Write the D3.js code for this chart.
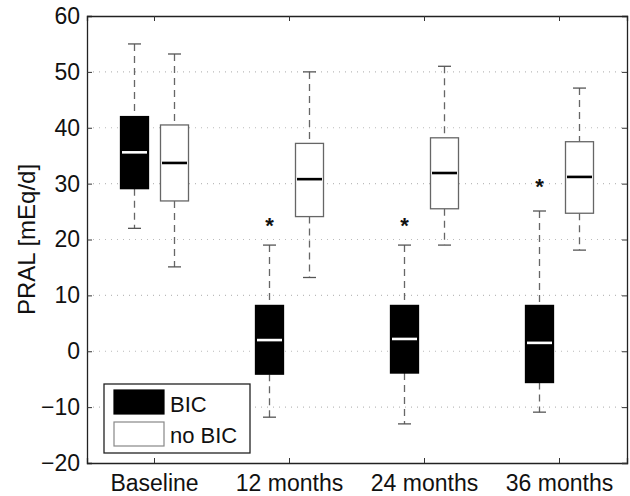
<!DOCTYPE html>
<html>
<head>
<meta charset="utf-8">
<script src="https://cdn.jsdelivr.net/npm/d3@7"></script>
<style>
  body { margin: 0; background: #fff; }
  text { font-family: "Liberation Sans", Arial, sans-serif; fill: #111; }
</style>
</head>
<body>
<div id="chart"></div>
<script>
// data
var periods = ["Baseline", "12 months", "24 months", "36 months"];
var groups = ["BIC", "no BIC"];
var yTicks = [-20, -10, 0, 10, 20, 30, 40, 50, 60];

// [lower whisker, q1, median, q3, upper whisker]
var bicStats = [
  [22, 29.1, 35.6, 42, 55],
  [-11.8, -4.1, 2.0, 8.2, 19],
  [-13, -3.9, 2.2, 8.2, 19],
  [-10.9, -5.6, 1.5, 8.2, 25.1]
];
var noBicStats = [
  [15.1, 26.9, 33.7, 40.5, 53.2],
  [13.2, 24.1, 30.8, 37.2, 50],
  [19, 25.5, 31.9, 38.2, 51],
  [18.1, 24.7, 31.2, 37.5, 47.1]
];
// significance star (BIC group)
var starAt = [null, 23, 23, 30];

var svgwdth = 630;
var svghght = 496;
var margin = {top: 16, right: 3, bottom: 33, left: 87};
var width = svgwdth - margin.left - margin.right;
var height = svghght - margin.top - margin.bottom;

var svg = d3.select("#chart").append("svg")
  .attr("width", svgwdth)
  .attr("height", svghght);

var chartGroup = svg.append("g")
  .attr("transform", `translate(${margin.left}, ${margin.top})`);

var xScale = d3.scaleBand().domain(periods).range([0, width]);
var yScale = d3.scaleLinear().domain([-20, 60]).range([height, 0]);

var offset = 20, boxW = 28, capW = 13;

// dotted grid
chartGroup.selectAll(".grid")
  .data(yTicks.filter(d => d > -20 && d < 60))
  .enter().append("line")
  .attr("x1", 0).attr("x2", width)
  .attr("y1", d => yScale(d)).attr("y2", d => yScale(d))
  .attr("stroke", "#bbb")
  .attr("stroke-width", 1.2)
  .attr("stroke-dasharray", "1,5");

// axes
var leftAxis = d3.axisLeft(yScale).tickValues(yTicks).tickSize(-5).tickPadding(7)
  .tickFormat(d => d < 0 ? "\u2212" + Math.abs(d) : d);
var bottomAxis = d3.axisBottom(xScale).tickSize(-5).tickPadding(12);

var yAxis = chartGroup.append("g").call(leftAxis);
var xAxis = chartGroup.append("g").attr("transform", `translate(0, ${height})`).call(bottomAxis);
chartGroup.append("g").attr("transform", `translate(${width}, 0)`)
  .call(d3.axisRight(yScale).tickValues(yTicks).tickSize(-5).tickFormat(""));
chartGroup.append("g")
  .call(d3.axisTop(xScale).tickSize(-5).tickFormat(""));

chartGroup.selectAll(".domain").attr("stroke", "#222").attr("stroke-width", 1.3);
chartGroup.selectAll(".tick line").attr("stroke", "#333");
chartGroup.selectAll(".tick text")
  .attr("font-size", 23)
  .attr("fill", "#111")
  .style("font-family", "Liberation Sans, Arial, sans-serif");

// y label
chartGroup.append("text")
  .attr("transform", "rotate(-90)")
  .attr("x", -height / 2)
  .attr("y", -52)
  .attr("text-anchor", "middle")
  .attr("font-size", 24)
  .text("PRAL [mEq/d]");

function drawBoxes(stats, dx, filled) {
  var g = chartGroup.append("g");
  stats.forEach(function(s, i) {
    var cx = xScale(periods[i]) + xScale.bandwidth() / 2 + dx;
    // whiskers
    g.append("line")
      .attr("x1", cx).attr("x2", cx)
      .attr("y1", yScale(s[4])).attr("y2", yScale(s[3]))
      .attr("stroke", "#666").attr("stroke-width", 1.3).attr("stroke-dasharray", "7,5");
    g.append("line")
      .attr("x1", cx).attr("x2", cx)
      .attr("y1", yScale(s[1])).attr("y2", yScale(s[0]))
      .attr("stroke", "#666").attr("stroke-width", 1.3).attr("stroke-dasharray", "7,5");
    [s[0], s[4]].forEach(function(v) {
      g.append("line")
        .attr("x1", cx - capW / 2).attr("x2", cx + capW / 2)
        .attr("y1", yScale(v)).attr("y2", yScale(v))
        .attr("stroke", "#555").attr("stroke-width", 1.3);
    });
    // box
    g.append("rect")
      .attr("x", cx - boxW / 2).attr("width", boxW)
      .attr("y", yScale(s[3])).attr("height", yScale(s[1]) - yScale(s[3]))
      .attr("fill", filled ? "#000" : "#fff")
      .attr("stroke", filled ? "#000" : "#666")
      .attr("stroke-width", 1.3);
    // median
    g.append("line")
      .attr("x1", cx - boxW / 2 + 1.5).attr("x2", cx + boxW / 2 - 1.5)
      .attr("y1", yScale(s[2])).attr("y2", yScale(s[2]))
      .attr("stroke", filled ? "#fff" : "#000").attr("stroke-width", 2.6);
  });
}

drawBoxes(bicStats, -offset, true);
drawBoxes(noBicStats, offset, false);

// stars
chartGroup.selectAll(".star")
  .data(starAt.map((v, i) => ({v: v, p: periods[i]})).filter(d => d.v !== null))
  .enter().append("text")
  .attr("x", d => xScale(d.p) + xScale.bandwidth() / 2 - offset)
  .attr("y", d => yScale(d.v) + 10)
  .attr("text-anchor", "middle")
  .attr("font-size", 22)
  .attr("font-weight", "bold")
  .text("*");

// legend
var legend = chartGroup.append("g").attr("transform", "translate(17, 368)");
legend.append("rect")
  .attr("width", 146).attr("height", 69)
  .attr("fill", "#fff").attr("stroke", "#222").attr("stroke-width", 1.3);
groups.forEach(function(name, i) {
  legend.append("rect")
    .attr("x", 10).attr("y", 6 + i * 32)
    .attr("width", 50).attr("height", 24)
    .attr("fill", i === 0 ? "#000" : "#fff")
    .attr("stroke", i === 0 ? "#000" : "#888")
    .attr("stroke-width", 1.2);
  legend.append("text")
    .attr("x", 66).attr("y", 28 + i * 31)
    .attr("font-size", 22)
    .text(name);
});
</script>
</body>
</html>
